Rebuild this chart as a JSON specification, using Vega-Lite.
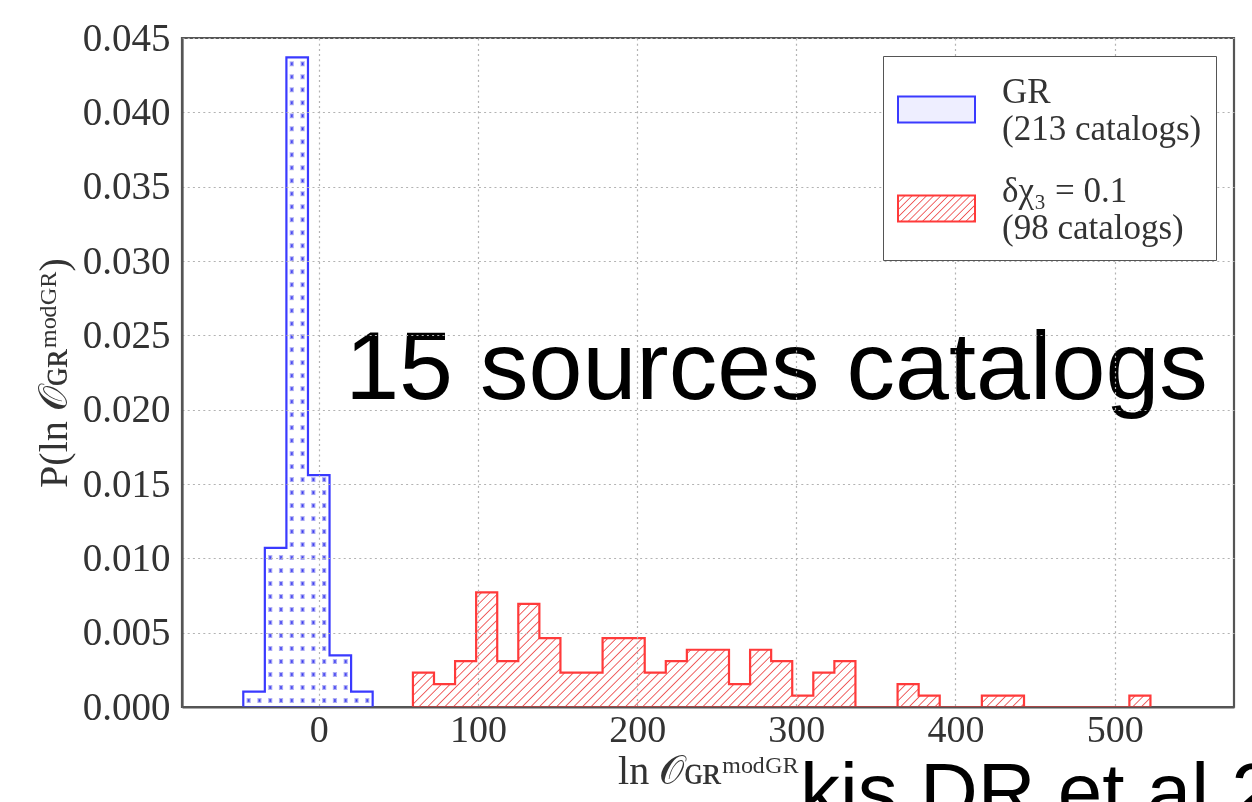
{
"$schema": "https://vega.github.io/schema/vega-lite/v6.json",
"width": 1052,
"height": 669,
"autosize": {"type": "none"},
"padding": {"left": 182, "top": 38, "right": 18, "bottom": 95},
"background": "white",
"datasets": {
"bins": [
{"series":"GR","bin_start":-47.5,"bin_end":-33.95,"density":0.00104},
{"series":"GR","bin_start":-33.95,"bin_end":-20.4,"density":0.0107},
{"series":"GR","bin_start":-20.4,"bin_end":-6.85,"density":0.0437},
{"series":"GR","bin_start":-6.85,"bin_end":6.7,"density":0.0156},
{"series":"GR","bin_start":6.7,"bin_end":20.25,"density":0.00347},
{"series":"GR","bin_start":20.25,"bin_end":33.8,"density":0.00104},
{"series":"δχ₃ = 0.1","bin_start":59.1,"bin_end":72.34,"density":0.00231},
{"series":"δχ₃ = 0.1","bin_start":72.34,"bin_end":85.58,"density":0.00154},
{"series":"δχ₃ = 0.1","bin_start":85.58,"bin_end":98.82,"density":0.00308},
{"series":"δχ₃ = 0.1","bin_start":98.82,"bin_end":112.06,"density":0.00771},
{"series":"δχ₃ = 0.1","bin_start":112.06,"bin_end":125.3,"density":0.00308},
{"series":"δχ₃ = 0.1","bin_start":125.3,"bin_end":138.54,"density":0.00694},
{"series":"δχ₃ = 0.1","bin_start":138.54,"bin_end":151.78,"density":0.00463},
{"series":"δχ₃ = 0.1","bin_start":151.78,"bin_end":165.02,"density":0.00231},
{"series":"δχ₃ = 0.1","bin_start":165.02,"bin_end":178.26,"density":0.00231},
{"series":"δχ₃ = 0.1","bin_start":178.26,"bin_end":191.5,"density":0.00463},
{"series":"δχ₃ = 0.1","bin_start":191.5,"bin_end":204.74,"density":0.00463},
{"series":"δχ₃ = 0.1","bin_start":204.74,"bin_end":217.98,"density":0.00231},
{"series":"δχ₃ = 0.1","bin_start":217.98,"bin_end":231.22,"density":0.00308},
{"series":"δχ₃ = 0.1","bin_start":231.22,"bin_end":244.46,"density":0.00385},
{"series":"δχ₃ = 0.1","bin_start":244.46,"bin_end":257.7,"density":0.00385},
{"series":"δχ₃ = 0.1","bin_start":257.7,"bin_end":270.94,"density":0.00154},
{"series":"δχ₃ = 0.1","bin_start":270.94,"bin_end":284.18,"density":0.00385},
{"series":"δχ₃ = 0.1","bin_start":284.18,"bin_end":297.42,"density":0.00308},
{"series":"δχ₃ = 0.1","bin_start":297.42,"bin_end":310.66,"density":0.00077},
{"series":"δχ₃ = 0.1","bin_start":310.66,"bin_end":323.9,"density":0.00231},
{"series":"δχ₃ = 0.1","bin_start":323.9,"bin_end":337.14,"density":0.00308},
{"series":"δχ₃ = 0.1","bin_start":337.14,"bin_end":350.38,"density":0},
{"series":"δχ₃ = 0.1","bin_start":350.38,"bin_end":363.62,"density":0},
{"series":"δχ₃ = 0.1","bin_start":363.62,"bin_end":376.86,"density":0.00154},
{"series":"δχ₃ = 0.1","bin_start":376.86,"bin_end":390.1,"density":0.00077},
{"series":"δχ₃ = 0.1","bin_start":390.1,"bin_end":403.34,"density":0},
{"series":"δχ₃ = 0.1","bin_start":403.34,"bin_end":416.58,"density":0},
{"series":"δχ₃ = 0.1","bin_start":416.58,"bin_end":429.82,"density":0.00077},
{"series":"δχ₃ = 0.1","bin_start":429.82,"bin_end":443.06,"density":0.00077},
{"series":"δχ₃ = 0.1","bin_start":443.06,"bin_end":456.3,"density":0},
{"series":"δχ₃ = 0.1","bin_start":456.3,"bin_end":469.54,"density":0},
{"series":"δχ₃ = 0.1","bin_start":469.54,"bin_end":482.78,"density":0},
{"series":"δχ₃ = 0.1","bin_start":482.78,"bin_end":496.02,"density":0},
{"series":"δχ₃ = 0.1","bin_start":496.02,"bin_end":509.26,"density":0},
{"series":"δχ₃ = 0.1","bin_start":509.26,"bin_end":522.5,"density":0.00077}
]
},
"layer": [
{
"data": {"name": "bins"},
"transform": [{"filter": {"field": "series", "equal": "δχ₃ = 0.1"}}, {"fold": ["bin_start", "bin_end"], "as": ["side", "edge"]}],
"mark": {"type": "area", "fill": {"gradient": "linear", "x1": 0, "y1": 0, "x2": 1.1386, "y2": 0.1769, "stops": [
{"offset":0.0085,"color":"#fff"},{"offset":0.01,"color":"#e55"},{"offset":0.0115,"color":"#fff"},
{"offset":0.0185,"color":"#fff"},{"offset":0.02,"color":"#e55"},{"offset":0.0215,"color":"#fff"},
{"offset":0.0285,"color":"#fff"},{"offset":0.03,"color":"#e55"},{"offset":0.0315,"color":"#fff"},
{"offset":0.0385,"color":"#fff"},{"offset":0.04,"color":"#e55"},{"offset":0.0415,"color":"#fff"},
{"offset":0.0485,"color":"#fff"},{"offset":0.05,"color":"#e55"},{"offset":0.0515,"color":"#fff"},
{"offset":0.0585,"color":"#fff"},{"offset":0.06,"color":"#e55"},{"offset":0.0615,"color":"#fff"},
{"offset":0.0685,"color":"#fff"},{"offset":0.07,"color":"#e55"},{"offset":0.0715,"color":"#fff"},
{"offset":0.0785,"color":"#fff"},{"offset":0.08,"color":"#e55"},{"offset":0.0815,"color":"#fff"},
{"offset":0.0885,"color":"#fff"},{"offset":0.09,"color":"#e55"},{"offset":0.0915,"color":"#fff"},
{"offset":0.0985,"color":"#fff"},{"offset":0.1,"color":"#e55"},{"offset":0.1015,"color":"#fff"},
{"offset":0.1085,"color":"#fff"},{"offset":0.11,"color":"#e55"},{"offset":0.1115,"color":"#fff"},
{"offset":0.1185,"color":"#fff"},{"offset":0.12,"color":"#e55"},{"offset":0.1215,"color":"#fff"},
{"offset":0.1285,"color":"#fff"},{"offset":0.13,"color":"#e55"},{"offset":0.1315,"color":"#fff"},
{"offset":0.1385,"color":"#fff"},{"offset":0.14,"color":"#e55"},{"offset":0.1415,"color":"#fff"},
{"offset":0.1485,"color":"#fff"},{"offset":0.15,"color":"#e55"},{"offset":0.1515,"color":"#fff"},
{"offset":0.1585,"color":"#fff"},{"offset":0.16,"color":"#e55"},{"offset":0.1615,"color":"#fff"},
{"offset":0.1685,"color":"#fff"},{"offset":0.17,"color":"#e55"},{"offset":0.1715,"color":"#fff"},
{"offset":0.1785,"color":"#fff"},{"offset":0.18,"color":"#e55"},{"offset":0.1815,"color":"#fff"},
{"offset":0.1885,"color":"#fff"},{"offset":0.19,"color":"#e55"},{"offset":0.1915,"color":"#fff"},
{"offset":0.1985,"color":"#fff"},{"offset":0.2,"color":"#e55"},{"offset":0.2015,"color":"#fff"},
{"offset":0.2085,"color":"#fff"},{"offset":0.21,"color":"#e55"},{"offset":0.2115,"color":"#fff"},
{"offset":0.2185,"color":"#fff"},{"offset":0.22,"color":"#e55"},{"offset":0.2215,"color":"#fff"},
{"offset":0.2285,"color":"#fff"},{"offset":0.23,"color":"#e55"},{"offset":0.2315,"color":"#fff"},
{"offset":0.2385,"color":"#fff"},{"offset":0.24,"color":"#e55"},{"offset":0.2415,"color":"#fff"},
{"offset":0.2485,"color":"#fff"},{"offset":0.25,"color":"#e55"},{"offset":0.2515,"color":"#fff"},
{"offset":0.2585,"color":"#fff"},{"offset":0.26,"color":"#e55"},{"offset":0.2615,"color":"#fff"},
{"offset":0.2685,"color":"#fff"},{"offset":0.27,"color":"#e55"},{"offset":0.2715,"color":"#fff"},
{"offset":0.2785,"color":"#fff"},{"offset":0.28,"color":"#e55"},{"offset":0.2815,"color":"#fff"},
{"offset":0.2885,"color":"#fff"},{"offset":0.29,"color":"#e55"},{"offset":0.2915,"color":"#fff"},
{"offset":0.2985,"color":"#fff"},{"offset":0.3,"color":"#e55"},{"offset":0.3015,"color":"#fff"},
{"offset":0.3085,"color":"#fff"},{"offset":0.31,"color":"#e55"},{"offset":0.3115,"color":"#fff"},
{"offset":0.3185,"color":"#fff"},{"offset":0.32,"color":"#e55"},{"offset":0.3215,"color":"#fff"},
{"offset":0.3285,"color":"#fff"},{"offset":0.33,"color":"#e55"},{"offset":0.3315,"color":"#fff"},
{"offset":0.3385,"color":"#fff"},{"offset":0.34,"color":"#e55"},{"offset":0.3415,"color":"#fff"},
{"offset":0.3485,"color":"#fff"},{"offset":0.35,"color":"#e55"},{"offset":0.3515,"color":"#fff"},
{"offset":0.3585,"color":"#fff"},{"offset":0.36,"color":"#e55"},{"offset":0.3615,"color":"#fff"},
{"offset":0.3685,"color":"#fff"},{"offset":0.37,"color":"#e55"},{"offset":0.3715,"color":"#fff"},
{"offset":0.3785,"color":"#fff"},{"offset":0.38,"color":"#e55"},{"offset":0.3815,"color":"#fff"},
{"offset":0.3885,"color":"#fff"},{"offset":0.39,"color":"#e55"},{"offset":0.3915,"color":"#fff"},
{"offset":0.3985,"color":"#fff"},{"offset":0.4,"color":"#e55"},{"offset":0.4015,"color":"#fff"},
{"offset":0.4085,"color":"#fff"},{"offset":0.41,"color":"#e55"},{"offset":0.4115,"color":"#fff"},
{"offset":0.4185,"color":"#fff"},{"offset":0.42,"color":"#e55"},{"offset":0.4215,"color":"#fff"},
{"offset":0.4285,"color":"#fff"},{"offset":0.43,"color":"#e55"},{"offset":0.4315,"color":"#fff"},
{"offset":0.4385,"color":"#fff"},{"offset":0.44,"color":"#e55"},{"offset":0.4415,"color":"#fff"},
{"offset":0.4485,"color":"#fff"},{"offset":0.45,"color":"#e55"},{"offset":0.4515,"color":"#fff"},
{"offset":0.4585,"color":"#fff"},{"offset":0.46,"color":"#e55"},{"offset":0.4615,"color":"#fff"},
{"offset":0.4685,"color":"#fff"},{"offset":0.47,"color":"#e55"},{"offset":0.4715,"color":"#fff"},
{"offset":0.4785,"color":"#fff"},{"offset":0.48,"color":"#e55"},{"offset":0.4815,"color":"#fff"},
{"offset":0.4885,"color":"#fff"},{"offset":0.49,"color":"#e55"},{"offset":0.4915,"color":"#fff"},
{"offset":0.4985,"color":"#fff"},{"offset":0.5,"color":"#e55"},{"offset":0.5015,"color":"#fff"},
{"offset":0.5085,"color":"#fff"},{"offset":0.51,"color":"#e55"},{"offset":0.5115,"color":"#fff"},
{"offset":0.5185,"color":"#fff"},{"offset":0.52,"color":"#e55"},{"offset":0.5215,"color":"#fff"},
{"offset":0.5285,"color":"#fff"},{"offset":0.53,"color":"#e55"},{"offset":0.5315,"color":"#fff"},
{"offset":0.5385,"color":"#fff"},{"offset":0.54,"color":"#e55"},{"offset":0.5415,"color":"#fff"},
{"offset":0.5485,"color":"#fff"},{"offset":0.55,"color":"#e55"},{"offset":0.5515,"color":"#fff"},
{"offset":0.5585,"color":"#fff"},{"offset":0.56,"color":"#e55"},{"offset":0.5615,"color":"#fff"},
{"offset":0.5685,"color":"#fff"},{"offset":0.57,"color":"#e55"},{"offset":0.5715,"color":"#fff"},
{"offset":0.5785,"color":"#fff"},{"offset":0.58,"color":"#e55"},{"offset":0.5815,"color":"#fff"},
{"offset":0.5885,"color":"#fff"},{"offset":0.59,"color":"#e55"},{"offset":0.5915,"color":"#fff"},
{"offset":0.5985,"color":"#fff"},{"offset":0.6,"color":"#e55"},{"offset":0.6015,"color":"#fff"},
{"offset":0.6085,"color":"#fff"},{"offset":0.61,"color":"#e55"},{"offset":0.6115,"color":"#fff"},
{"offset":0.6185,"color":"#fff"},{"offset":0.62,"color":"#e55"},{"offset":0.6215,"color":"#fff"},
{"offset":0.6285,"color":"#fff"},{"offset":0.63,"color":"#e55"},{"offset":0.6315,"color":"#fff"},
{"offset":0.6385,"color":"#fff"},{"offset":0.64,"color":"#e55"},{"offset":0.6415,"color":"#fff"},
{"offset":0.6485,"color":"#fff"},{"offset":0.65,"color":"#e55"},{"offset":0.6515,"color":"#fff"},
{"offset":0.6585,"color":"#fff"},{"offset":0.66,"color":"#e55"},{"offset":0.6615,"color":"#fff"},
{"offset":0.6685,"color":"#fff"},{"offset":0.67,"color":"#e55"},{"offset":0.6715,"color":"#fff"},
{"offset":0.6785,"color":"#fff"},{"offset":0.68,"color":"#e55"},{"offset":0.6815,"color":"#fff"},
{"offset":0.6885,"color":"#fff"},{"offset":0.69,"color":"#e55"},{"offset":0.6915,"color":"#fff"},
{"offset":0.6985,"color":"#fff"},{"offset":0.7,"color":"#e55"},{"offset":0.7015,"color":"#fff"},
{"offset":0.7085,"color":"#fff"},{"offset":0.71,"color":"#e55"},{"offset":0.7115,"color":"#fff"},
{"offset":0.7185,"color":"#fff"},{"offset":0.72,"color":"#e55"},{"offset":0.7215,"color":"#fff"},
{"offset":0.7285,"color":"#fff"},{"offset":0.73,"color":"#e55"},{"offset":0.7315,"color":"#fff"},
{"offset":0.7385,"color":"#fff"},{"offset":0.74,"color":"#e55"},{"offset":0.7415,"color":"#fff"},
{"offset":0.7485,"color":"#fff"},{"offset":0.75,"color":"#e55"},{"offset":0.7515,"color":"#fff"},
{"offset":0.7585,"color":"#fff"},{"offset":0.76,"color":"#e55"},{"offset":0.7615,"color":"#fff"},
{"offset":0.7685,"color":"#fff"},{"offset":0.77,"color":"#e55"},{"offset":0.7715,"color":"#fff"},
{"offset":0.7785,"color":"#fff"},{"offset":0.78,"color":"#e55"},{"offset":0.7815,"color":"#fff"},
{"offset":0.7885,"color":"#fff"},{"offset":0.79,"color":"#e55"},{"offset":0.7915,"color":"#fff"},
{"offset":0.7985,"color":"#fff"},{"offset":0.8,"color":"#e55"},{"offset":0.8015,"color":"#fff"},
{"offset":0.8085,"color":"#fff"},{"offset":0.81,"color":"#e55"},{"offset":0.8115,"color":"#fff"},
{"offset":0.8185,"color":"#fff"},{"offset":0.82,"color":"#e55"},{"offset":0.8215,"color":"#fff"},
{"offset":0.8285,"color":"#fff"},{"offset":0.83,"color":"#e55"},{"offset":0.8315,"color":"#fff"},
{"offset":0.8385,"color":"#fff"},{"offset":0.84,"color":"#e55"},{"offset":0.8415,"color":"#fff"},
{"offset":0.8485,"color":"#fff"},{"offset":0.85,"color":"#e55"},{"offset":0.8515,"color":"#fff"},
{"offset":0.8585,"color":"#fff"},{"offset":0.86,"color":"#e55"},{"offset":0.8615,"color":"#fff"},
{"offset":0.8685,"color":"#fff"},{"offset":0.87,"color":"#e55"},{"offset":0.8715,"color":"#fff"},
{"offset":0.8785,"color":"#fff"},{"offset":0.88,"color":"#e55"},{"offset":0.8815,"color":"#fff"},
{"offset":0.8885,"color":"#fff"},{"offset":0.89,"color":"#e55"},{"offset":0.8915,"color":"#fff"},
{"offset":0.8985,"color":"#fff"},{"offset":0.9,"color":"#e55"},{"offset":0.9015,"color":"#fff"},
{"offset":0.9085,"color":"#fff"},{"offset":0.91,"color":"#e55"},{"offset":0.9115,"color":"#fff"},
{"offset":0.9185,"color":"#fff"},{"offset":0.92,"color":"#e55"},{"offset":0.9215,"color":"#fff"},
{"offset":0.9285,"color":"#fff"},{"offset":0.93,"color":"#e55"},{"offset":0.9315,"color":"#fff"},
{"offset":0.9385,"color":"#fff"},{"offset":0.94,"color":"#e55"},{"offset":0.9415,"color":"#fff"},
{"offset":0.9485,"color":"#fff"},{"offset":0.95,"color":"#e55"},{"offset":0.9515,"color":"#fff"},
{"offset":0.9585,"color":"#fff"},{"offset":0.96,"color":"#e55"},{"offset":0.9615,"color":"#fff"},
{"offset":0.9685,"color":"#fff"},{"offset":0.97,"color":"#e55"},{"offset":0.9715,"color":"#fff"},
{"offset":0.9785,"color":"#fff"},{"offset":0.98,"color":"#e55"},{"offset":0.9815,"color":"#fff"},
{"offset":0.9885,"color":"#fff"},{"offset":0.99,"color":"#e55"},{"offset":0.9915,"color":"#fff"}
]}},
"encoding": {
"x": {"field": "edge", "type": "quantitative", "scale": {"domain": [-86, 575], "nice": false, "zero": false},
"axis": {"title": "ln 𝒪ɢʀᵐᵒᵈᴳᴿ", "values": [0, 100, 200, 300, 400, 500], "format": "d", "grid": true, "ticks": false, "labelFontSize": 38, "labelPadding": 4, "titleFontSize": 40, "titlePadding": 2, "zindex": 1}},
"y": {"field": "density", "type": "quantitative", "stack": null, "scale": {"domain": [0, 0.045], "nice": false},
"axis": {"title": "P(ln 𝒪ɢʀᵐᵒᵈᴳᴿ)", "values": [0, 0.005, 0.01, 0.015, 0.02, 0.025, 0.03, 0.035, 0.04, 0.045], "format": ".3f", "grid": true, "ticks": false, "labelFontSize": 39, "labelPadding": 12, "titleFontSize": 40, "titlePadding": 8, "zindex": 1}}
}
},
{
"data": {"name": "bins"},
"transform": [{"filter": {"field": "series", "equal": "GR"}}, {"fold": ["bin_start", "bin_end"], "as": ["side", "edge"]}],
"mark": {"type": "area", "fill": {"gradient": "linear", "x1": 0, "y1": 0, "x2": 1, "y2": 0, "stops": [
{"offset":0.0217,"color":"#fff"},{"offset":0.0417,"color":"#33e"},{"offset":0.0617,"color":"#fff"},
{"offset":0.105,"color":"#fff"},{"offset":0.125,"color":"#33e"},{"offset":0.145,"color":"#fff"},
{"offset":0.1883,"color":"#fff"},{"offset":0.2083,"color":"#33e"},{"offset":0.2283,"color":"#fff"},
{"offset":0.2717,"color":"#fff"},{"offset":0.2917,"color":"#33e"},{"offset":0.3117,"color":"#fff"},
{"offset":0.355,"color":"#fff"},{"offset":0.375,"color":"#33e"},{"offset":0.395,"color":"#fff"},
{"offset":0.4383,"color":"#fff"},{"offset":0.4583,"color":"#33e"},{"offset":0.4783,"color":"#fff"},
{"offset":0.5217,"color":"#fff"},{"offset":0.5417,"color":"#33e"},{"offset":0.5617,"color":"#fff"},
{"offset":0.605,"color":"#fff"},{"offset":0.625,"color":"#33e"},{"offset":0.645,"color":"#fff"},
{"offset":0.6883,"color":"#fff"},{"offset":0.7083,"color":"#33e"},{"offset":0.7283,"color":"#fff"},
{"offset":0.7717,"color":"#fff"},{"offset":0.7917,"color":"#33e"},{"offset":0.8117,"color":"#fff"},
{"offset":0.855,"color":"#fff"},{"offset":0.875,"color":"#33e"},{"offset":0.895,"color":"#fff"},
{"offset":0.9383,"color":"#fff"},{"offset":0.9583,"color":"#33e"},{"offset":0.9783,"color":"#fff"}
]}},
"encoding": {
"x": {"field": "edge", "type": "quantitative"},
"y": {"field": "density", "type": "quantitative", "stack": null}
}
},
{
"data": {"name": "bins"},
"transform": [{"filter": {"field": "series", "equal": "GR"}}, {"fold": ["bin_start", "bin_end"], "as": ["side", "edge"]}],
"mark": {"type": "area", "blend": "lighten", "fill": {"gradient": "linear", "x1": 0, "y1": 0, "x2": 0, "y2": 1, "stops": [
{"offset":0.0055,"color":"#fff"},{"offset":0.01,"color":"#000"},{"offset":0.0145,"color":"#fff"},
{"offset":0.0255,"color":"#fff"},{"offset":0.03,"color":"#000"},{"offset":0.0345,"color":"#fff"},
{"offset":0.0455,"color":"#fff"},{"offset":0.05,"color":"#000"},{"offset":0.0545,"color":"#fff"},
{"offset":0.0655,"color":"#fff"},{"offset":0.07,"color":"#000"},{"offset":0.0745,"color":"#fff"},
{"offset":0.0855,"color":"#fff"},{"offset":0.09,"color":"#000"},{"offset":0.0945,"color":"#fff"},
{"offset":0.1055,"color":"#fff"},{"offset":0.11,"color":"#000"},{"offset":0.1145,"color":"#fff"},
{"offset":0.1255,"color":"#fff"},{"offset":0.13,"color":"#000"},{"offset":0.1345,"color":"#fff"},
{"offset":0.1455,"color":"#fff"},{"offset":0.15,"color":"#000"},{"offset":0.1545,"color":"#fff"},
{"offset":0.1655,"color":"#fff"},{"offset":0.17,"color":"#000"},{"offset":0.1745,"color":"#fff"},
{"offset":0.1855,"color":"#fff"},{"offset":0.19,"color":"#000"},{"offset":0.1945,"color":"#fff"},
{"offset":0.2055,"color":"#fff"},{"offset":0.21,"color":"#000"},{"offset":0.2145,"color":"#fff"},
{"offset":0.2255,"color":"#fff"},{"offset":0.23,"color":"#000"},{"offset":0.2345,"color":"#fff"},
{"offset":0.2455,"color":"#fff"},{"offset":0.25,"color":"#000"},{"offset":0.2545,"color":"#fff"},
{"offset":0.2655,"color":"#fff"},{"offset":0.27,"color":"#000"},{"offset":0.2745,"color":"#fff"},
{"offset":0.2855,"color":"#fff"},{"offset":0.29,"color":"#000"},{"offset":0.2945,"color":"#fff"},
{"offset":0.3055,"color":"#fff"},{"offset":0.31,"color":"#000"},{"offset":0.3145,"color":"#fff"},
{"offset":0.3255,"color":"#fff"},{"offset":0.33,"color":"#000"},{"offset":0.3345,"color":"#fff"},
{"offset":0.3455,"color":"#fff"},{"offset":0.35,"color":"#000"},{"offset":0.3545,"color":"#fff"},
{"offset":0.3655,"color":"#fff"},{"offset":0.37,"color":"#000"},{"offset":0.3745,"color":"#fff"},
{"offset":0.3855,"color":"#fff"},{"offset":0.39,"color":"#000"},{"offset":0.3945,"color":"#fff"},
{"offset":0.4055,"color":"#fff"},{"offset":0.41,"color":"#000"},{"offset":0.4145,"color":"#fff"},
{"offset":0.4255,"color":"#fff"},{"offset":0.43,"color":"#000"},{"offset":0.4345,"color":"#fff"},
{"offset":0.4455,"color":"#fff"},{"offset":0.45,"color":"#000"},{"offset":0.4545,"color":"#fff"},
{"offset":0.4655,"color":"#fff"},{"offset":0.47,"color":"#000"},{"offset":0.4745,"color":"#fff"},
{"offset":0.4855,"color":"#fff"},{"offset":0.49,"color":"#000"},{"offset":0.4945,"color":"#fff"},
{"offset":0.5055,"color":"#fff"},{"offset":0.51,"color":"#000"},{"offset":0.5145,"color":"#fff"},
{"offset":0.5255,"color":"#fff"},{"offset":0.53,"color":"#000"},{"offset":0.5345,"color":"#fff"},
{"offset":0.5455,"color":"#fff"},{"offset":0.55,"color":"#000"},{"offset":0.5545,"color":"#fff"},
{"offset":0.5655,"color":"#fff"},{"offset":0.57,"color":"#000"},{"offset":0.5745,"color":"#fff"},
{"offset":0.5855,"color":"#fff"},{"offset":0.59,"color":"#000"},{"offset":0.5945,"color":"#fff"},
{"offset":0.6055,"color":"#fff"},{"offset":0.61,"color":"#000"},{"offset":0.6145,"color":"#fff"},
{"offset":0.6255,"color":"#fff"},{"offset":0.63,"color":"#000"},{"offset":0.6345,"color":"#fff"},
{"offset":0.6455,"color":"#fff"},{"offset":0.65,"color":"#000"},{"offset":0.6545,"color":"#fff"},
{"offset":0.6655,"color":"#fff"},{"offset":0.67,"color":"#000"},{"offset":0.6745,"color":"#fff"},
{"offset":0.6855,"color":"#fff"},{"offset":0.69,"color":"#000"},{"offset":0.6945,"color":"#fff"},
{"offset":0.7055,"color":"#fff"},{"offset":0.71,"color":"#000"},{"offset":0.7145,"color":"#fff"},
{"offset":0.7255,"color":"#fff"},{"offset":0.73,"color":"#000"},{"offset":0.7345,"color":"#fff"},
{"offset":0.7455,"color":"#fff"},{"offset":0.75,"color":"#000"},{"offset":0.7545,"color":"#fff"},
{"offset":0.7655,"color":"#fff"},{"offset":0.77,"color":"#000"},{"offset":0.7745,"color":"#fff"},
{"offset":0.7855,"color":"#fff"},{"offset":0.79,"color":"#000"},{"offset":0.7945,"color":"#fff"},
{"offset":0.8055,"color":"#fff"},{"offset":0.81,"color":"#000"},{"offset":0.8145,"color":"#fff"},
{"offset":0.8255,"color":"#fff"},{"offset":0.83,"color":"#000"},{"offset":0.8345,"color":"#fff"},
{"offset":0.8455,"color":"#fff"},{"offset":0.85,"color":"#000"},{"offset":0.8545,"color":"#fff"},
{"offset":0.8655,"color":"#fff"},{"offset":0.87,"color":"#000"},{"offset":0.8745,"color":"#fff"},
{"offset":0.8855,"color":"#fff"},{"offset":0.89,"color":"#000"},{"offset":0.8945,"color":"#fff"},
{"offset":0.9055,"color":"#fff"},{"offset":0.91,"color":"#000"},{"offset":0.9145,"color":"#fff"},
{"offset":0.9255,"color":"#fff"},{"offset":0.93,"color":"#000"},{"offset":0.9345,"color":"#fff"},
{"offset":0.9455,"color":"#fff"},{"offset":0.95,"color":"#000"},{"offset":0.9545,"color":"#fff"},
{"offset":0.9655,"color":"#fff"},{"offset":0.97,"color":"#000"},{"offset":0.9745,"color":"#fff"},
{"offset":0.9855,"color":"#fff"},{"offset":0.99,"color":"#000"},{"offset":0.9945,"color":"#fff"}
]}},
"encoding": {
"x": {"field": "edge", "type": "quantitative"},
"y": {"field": "density", "type": "quantitative", "stack": null}
}
},
{
"data": {"name": "bins"},
"transform": [{"fold": ["bin_start", "bin_end"], "as": ["side", "edge"]}],
"mark": {"type": "area", "fillOpacity": 0, "strokeWidth": 2.2, "strokeJoin": "miter"},
"encoding": {
"x": {"field": "edge", "type": "quantitative"},
"y": {"field": "density", "type": "quantitative", "stack": null},
"fill": {"field": "series", "type": "nominal",
"scale": {"domain": ["GR", "δχ₃ = 0.1"], "range": ["#eeeeff", {"expr": "{gradient: 'linear', x1: 0, y1: 0, x2: 1.2, y2: 0.408, stops: [{offset: 0.058, color: '#fff'}, {offset: 0.07, color: '#e55'}, {offset: 0.082, color: '#fff'}, {offset: 0.128, color: '#fff'}, {offset: 0.14, color: '#e55'}, {offset: 0.152, color: '#fff'}, {offset: 0.198, color: '#fff'}, {offset: 0.21, color: '#e55'}, {offset: 0.222, color: '#fff'}, {offset: 0.268, color: '#fff'}, {offset: 0.28, color: '#e55'}, {offset: 0.292, color: '#fff'}, {offset: 0.338, color: '#fff'}, {offset: 0.35, color: '#e55'}, {offset: 0.362, color: '#fff'}, {offset: 0.408, color: '#fff'}, {offset: 0.42, color: '#e55'}, {offset: 0.432, color: '#fff'}, {offset: 0.478, color: '#fff'}, {offset: 0.49, color: '#e55'}, {offset: 0.502, color: '#fff'}, {offset: 0.548, color: '#fff'}, {offset: 0.56, color: '#e55'}, {offset: 0.572, color: '#fff'}, {offset: 0.618, color: '#fff'}, {offset: 0.63, color: '#e55'}, {offset: 0.642, color: '#fff'}, {offset: 0.688, color: '#fff'}, {offset: 0.7, color: '#e55'}, {offset: 0.712, color: '#fff'}, {offset: 0.758, color: '#fff'}, {offset: 0.77, color: '#e55'}, {offset: 0.782, color: '#fff'}, {offset: 0.828, color: '#fff'}, {offset: 0.84, color: '#e55'}, {offset: 0.852, color: '#fff'}, {offset: 0.898, color: '#fff'}, {offset: 0.91, color: '#e55'}, {offset: 0.922, color: '#fff'}, {offset: 0.968, color: '#fff'}, {offset: 0.98, color: '#e55'}, {offset: 0.992, color: '#fff'}]}"}]},
"legend": {"title": null, "orient": "top-right", "offset": 18, "zindex": 2,
"symbolType": "M-1,-0.34H1V0.34H-1Z", "symbolSize": 5929, "symbolStrokeWidth": 2,
"labelFont": "Liberation Serif", "labelFontSize": 35, "labelColor": "#333", "labelOffset": 26, "labelLimit": 500, "labelBaseline": "bottom",
"labelExpr": "datum.label == 'GR' ? ['GR', '(213 catalogs)'] : [datum.label, '(98 catalogs)']",
"padding": 14, "rowPadding": 22, "strokeColor": "#555", "fillColor": "white", "cornerRadius": 0}},
"stroke": {"field": "series", "type": "nominal",
"scale": {"domain": ["GR", "δχ₃ = 0.1"], "range": ["#3a3aff", "#ff3a3a"]},
"legend": {"title": null, "orient": "top-right", "offset": 18, "zindex": 2,
"symbolType": "M-1,-0.34H1V0.34H-1Z", "symbolSize": 5929, "symbolStrokeWidth": 2,
"labelFont": "Liberation Serif", "labelFontSize": 35, "labelColor": "#333", "labelOffset": 26, "labelLimit": 500, "labelBaseline": "bottom",
"labelExpr": "datum.label == 'GR' ? ['GR', '(213 catalogs)'] : [datum.label, '(98 catalogs)']",
"padding": 14, "rowPadding": 22, "strokeColor": "#555", "fillColor": "white", "cornerRadius": 0}}
}
},
{
"data": {"values": [{"note": "15 sources catalogs"}]},
"mark": {"type": "text", "font": "Liberation Sans", "fontSize": 97, "align": "left", "baseline": "alphabetic", "color": "#000"},
"encoding": {"x": {"datum": 16.5}, "y": {"datum": 0.0207}, "text": {"field": "note"}}
},
{
"data": {"values": [{"note": "kis DR et al 20"}]},
"mark": {"type": "text", "font": "Liberation Sans", "fontSize": 80, "align": "left", "baseline": "alphabetic", "color": "#000"},
"encoding": {"x": {"datum": 302.3}, "y": {"datum": -0.00753}, "text": {"field": "note"}}
}
],
"config": {
"font": "Liberation Serif",
"view": {"stroke": "#555", "strokeWidth": 2.2},
"axis": {"gridColor": "#b3b3b3", "gridDash": [2, 3.2], "gridWidth": 1.2, "labelColor": "#333", "titleColor": "#333", "labelFont": "Liberation Serif", "titleFont": "Liberation Serif", "titleFontWeight": "normal", "domainColor": "#555", "domainWidth": 2.2}
}
}
